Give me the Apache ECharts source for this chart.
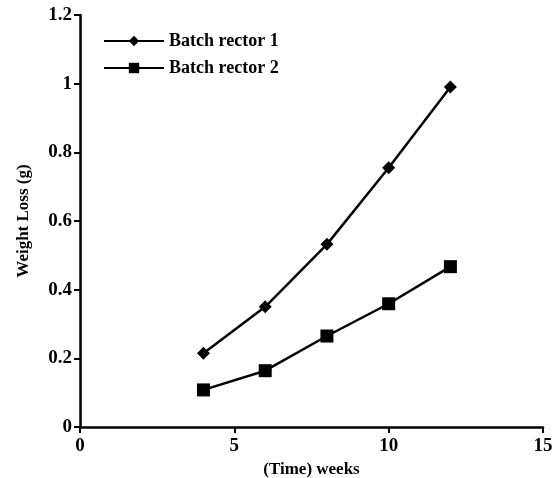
<!DOCTYPE html>
<html lang="en">
<head>
    <meta charset="utf-8">
    <title>Weight Loss</title>
    <style>
        body { margin: 0; background: #fff; }
        #chart { width: 553px; height: 478px; }
    </style>
</head>
<body>
    <div id="chart"></div>
    <script src="https://cdn.jsdelivr.net/npm/echarts@6/dist/echarts.min.js"></script>
    <script>
        var weeks = [4, 6, 8, 10, 12];
        var reactor1 = [0.215, 0.35, 0.532, 0.755, 0.99];
        var reactor2 = [0.108, 0.164, 0.265, 0.359, 0.467];
        var names = ["Batch rector 1", "Batch rector 2"];

        var font = "Liberation Serif";
        var chart = echarts.init(document.getElementById("chart"));

        function pairs(xs, ys) {
            return xs.map(function (x, i) { return [x, ys[i]]; });
        }

        chart.setOption({
            animation: false,
            grid: { left: 80, right: 10, top: 15, bottom: 51, outerBoundsMode: "none", containLabel: false },
            legend: {
                orient: "vertical",
                left: 98,
                top: 27,
                itemWidth: 60,
                itemHeight: 13,
                itemGap: 9,
                textStyle: { fontFamily: font, fontWeight: "bold", fontSize: 18, color: "#000" },
                data: names
            },
            xAxis: {
                type: "value",
                min: 0, max: 15, interval: 5,
                name: "(Time) weeks",
                nameLocation: "middle",
                nameGap: 31,
                nameTextStyle: { fontFamily: font, fontWeight: "bold", fontSize: 17, color: "#000" },
                axisLine: { lineStyle: { color: "#000", width: 2.5 } },
                axisTick: { lineStyle: { color: "#000", width: 2 }, length: 6 },
                axisLabel: { fontFamily: font, fontWeight: "bold", fontSize: 19, color: "#000", margin: 10 },
                splitLine: { show: false }
            },
            yAxis: {
                type: "value",
                min: 0, max: 1.2, interval: 0.2,
                name: "Weight Loss (g)",
                nameLocation: "middle",
                nameGap: 48,
                nameTextStyle: { fontFamily: font, fontWeight: "bold", fontSize: 17, color: "#000" },
                axisLine: { lineStyle: { color: "#000", width: 2.5 } },
                axisTick: { lineStyle: { color: "#000", width: 2 }, length: 6 },
                axisLabel: { fontFamily: font, fontWeight: "bold", fontSize: 19, color: "#000", margin: 8 },
                splitLine: { show: false }
            },
            series: [
                {
                    name: names[0],
                    type: "line",
                    data: pairs(weeks, reactor1),
                    symbol: "diamond",
                    symbolSize: 13,
                    lineStyle: { color: "#000", width: 2.5 },
                    itemStyle: { color: "#000" }
                },
                {
                    name: names[1],
                    type: "line",
                    data: pairs(weeks, reactor2),
                    symbol: "rect",
                    symbolSize: 13,
                    lineStyle: { color: "#000", width: 2.5 },
                    itemStyle: { color: "#000" }
                }
            ]
        });
    </script>
</body>
</html>
